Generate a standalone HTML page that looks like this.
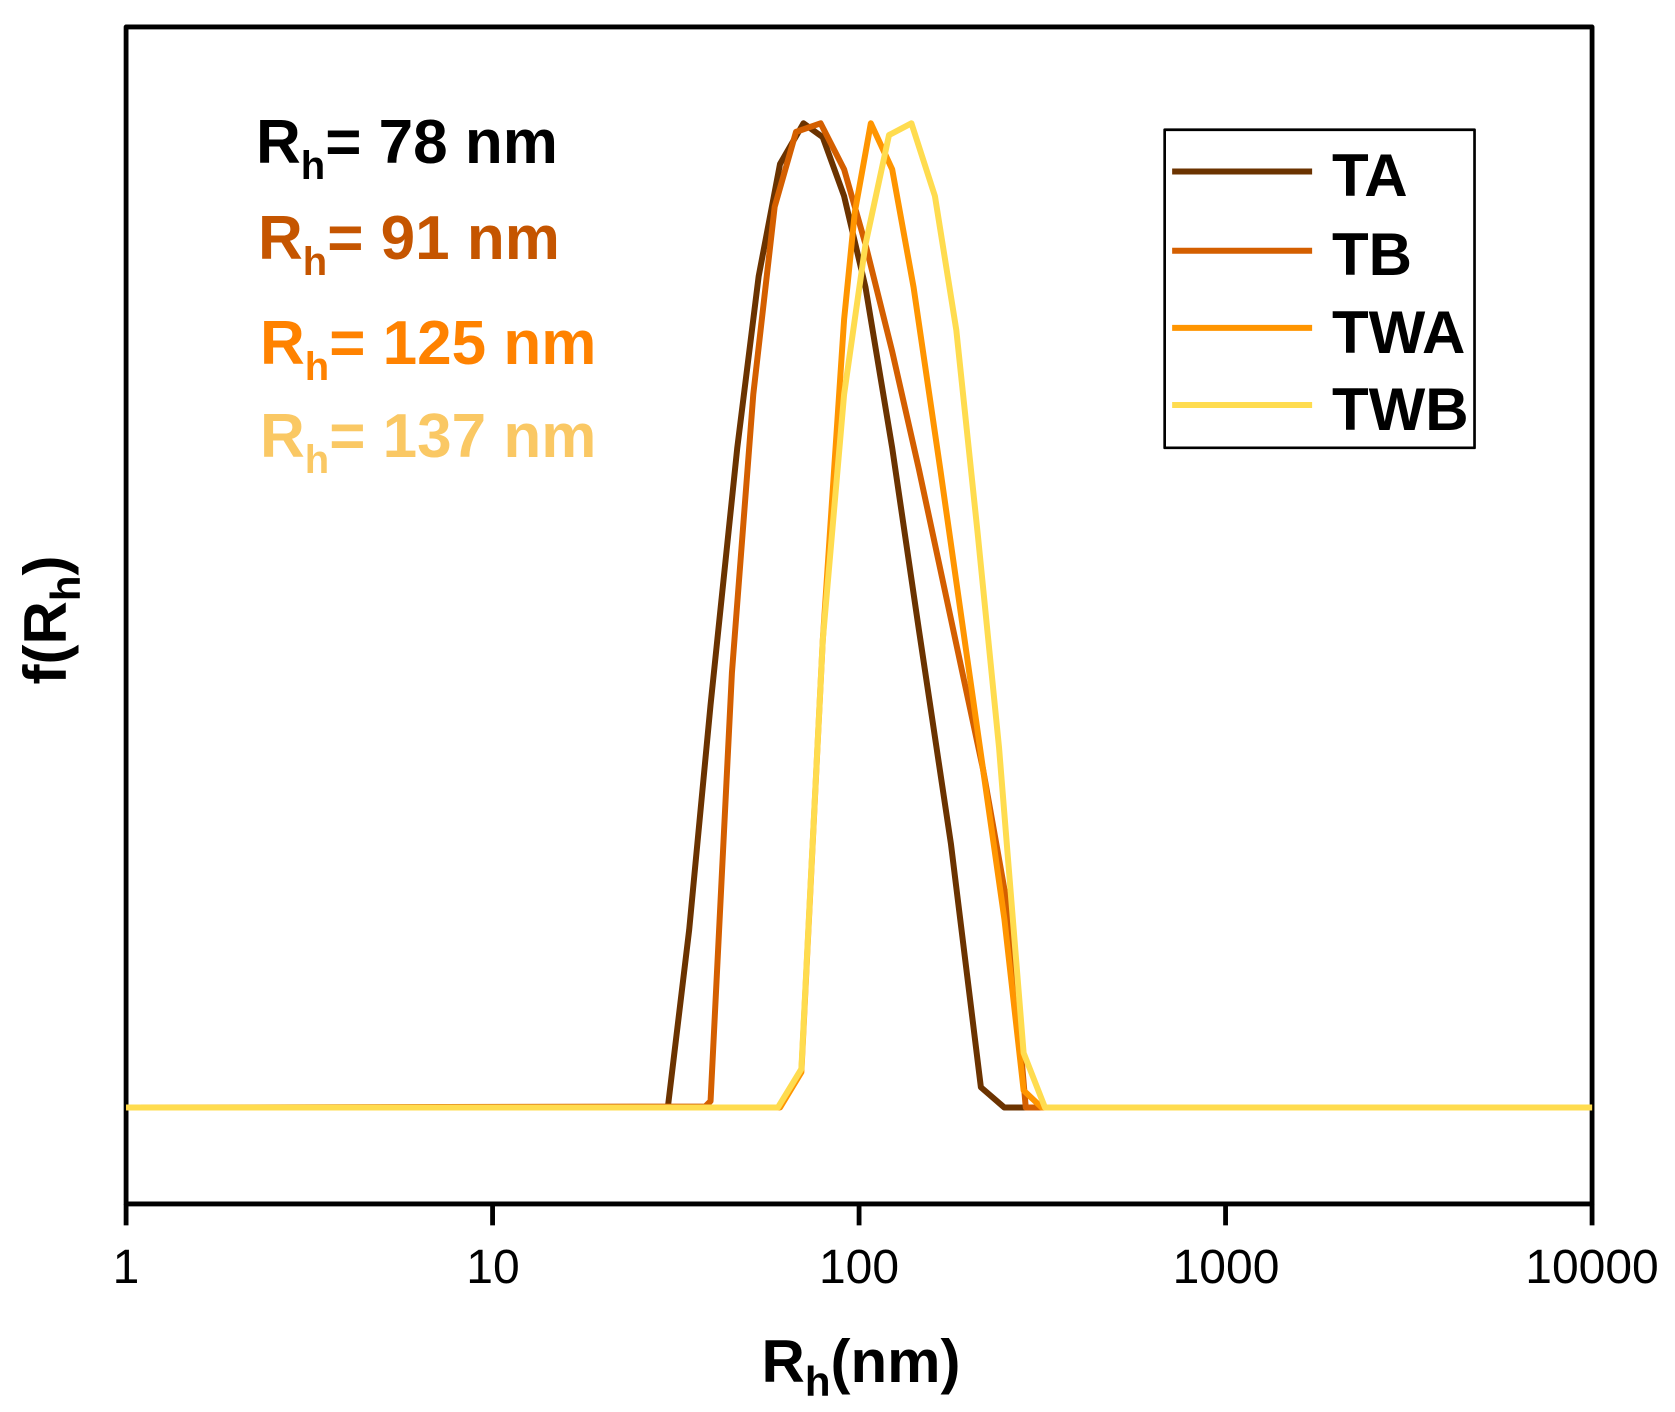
<!DOCTYPE html>
<html><head><meta charset="utf-8"><style>
html,body{margin:0;padding:0;background:#fff}
svg{display:block}
text{font-family:"Liberation Sans",Arial,sans-serif;font-weight:bold}
</style></head><body>
<svg width="1675" height="1412" viewBox="0 0 1675 1412" xmlns="http://www.w3.org/2000/svg">
<g transform="translate(0,-2) scale(1.0685,1.071)" fill="none" stroke-linejoin="round">
<rect x="118" y="27" width="1372" height="1099" stroke="#000" stroke-width="4.5"/>
<g stroke="#000" stroke-width="4.5">
<line x1="118" y1="1126" x2="118" y2="1146"/>
<line x1="461" y1="1126" x2="461" y2="1146"/>
<line x1="804" y1="1126" x2="804" y2="1146"/>
<line x1="1147" y1="1126" x2="1147" y2="1146"/>
<line x1="1490" y1="1126" x2="1490" y2="1146"/>
</g>
<polyline stroke="#6B3300" stroke-width="5.6" points="118,1036 625,1036 645,870 665,660 690,420 710,260 730,155 752,117 770,130 790,185 810,270 835,420 860,590 890,790 918,1017 940,1036 1490,1036"/>
<polyline stroke="#D45F00" stroke-width="5.6" points="118,1036 660,1035 665,1030 685,630 705,370 725,195 745,125 768,117 790,160 810,230 835,330 860,440 890,580 920,720 945,860 960,1036 1490,1036"/>
<polyline stroke="#FF9500" stroke-width="5.6" points="118,1036 730,1036 750,1003 770,600 790,300 800,200 815,117 835,160 855,270 880,440 910,650 940,860 958,1020 975,1036 1490,1036"/>
<polyline stroke="#FFDC4F" stroke-width="5.6" points="118,1036 728,1036 750,1000 770,600 790,370 810,230 832,128 853,117 875,185 895,310 915,500 935,700 958,985 978,1036 1490,1036"/>
<rect x="1090" y="123" width="290" height="297" stroke="#000" stroke-width="2.5"/>
<line x1="1097" y1="162" x2="1228" y2="162" stroke="#6B3300" stroke-width="5.6"/>
<line x1="1097" y1="236" x2="1228" y2="236" stroke="#D45F00" stroke-width="5.6"/>
<line x1="1097" y1="308" x2="1228" y2="308" stroke="#FF9500" stroke-width="5.6"/>
<line x1="1097" y1="380" x2="1228" y2="380" stroke="#FFDC4F" stroke-width="5.6"/>
</g>
<g font-size="60" fill="#000">
<text x="1332" y="196">TA</text>
<text x="1332" y="275">TB</text>
<text x="1332" y="353">TWA</text>
<text x="1332" y="430">TWB</text>
</g>
<g font-size="48" fill="#000" text-anchor="middle">
<text x="126" y="1283" style="font-weight:normal">1</text>
<text x="493" y="1283" style="font-weight:normal">10</text>
<text x="859" y="1283" style="font-weight:normal">100</text>
<text x="1226" y="1283" style="font-weight:normal">1000</text>
<text x="1592" y="1283" style="font-weight:normal">10000</text>
</g>
<g font-size="62">
<text x="256" y="163" fill="#000">R<tspan font-size="40" dy="16">h</tspan><tspan dy="-16">= 78 nm</tspan></text>
<text x="258" y="259" fill="#C55500">R<tspan font-size="40" dy="16">h</tspan><tspan dy="-16">= 91 nm</tspan></text>
<text x="260" y="364" fill="#FF8200">R<tspan font-size="40" dy="16">h</tspan><tspan dy="-16">= 125 nm</tspan></text>
<text x="260" y="457" fill="#FAC864">R<tspan font-size="40" dy="16">h</tspan><tspan dy="-16">= 137 nm</tspan></text>
</g>
<text x="861" y="1382" font-size="60" text-anchor="middle" fill="#000">R<tspan font-size="42" dy="14">h</tspan><tspan dy="-14">(nm)</tspan></text>
<text transform="translate(66,620) rotate(-90)" font-size="60" text-anchor="middle" fill="#000">f(R<tspan font-size="42" dy="14">h</tspan><tspan dy="-14">)</tspan></text>
</svg>
</body></html>
